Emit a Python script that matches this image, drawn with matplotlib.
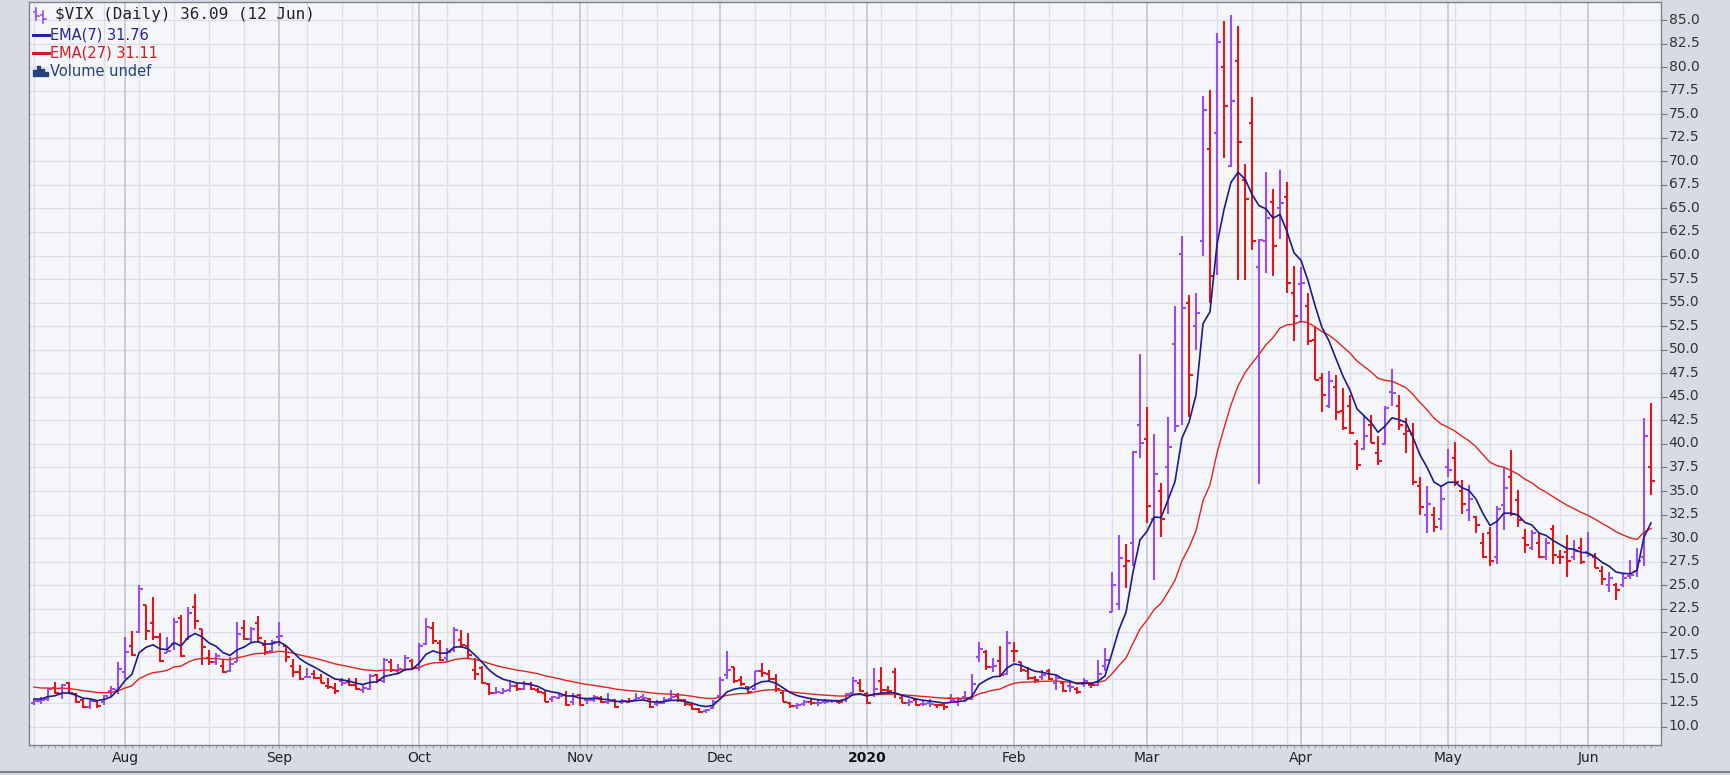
import numpy as np
import pandas as pd
import matplotlib
matplotlib.use("Agg")
import matplotlib.pyplot as plt
from matplotlib.transforms import ScaledTranslation
from matplotlib.patches import Rectangle
from matplotlib.lines import Line2D

# ---------------- data ----------------
holidays = ["2019-09-02", "2019-11-28", "2019-12-25", "2020-01-01",
            "2020-01-20", "2020-02-17", "2020-04-10", "2020-05-25"]
dates = pd.bdate_range("2019-07-15", "2020-06-12")
dates = dates[~dates.isin(pd.to_datetime(holidays))]

month_labels = ["Aug", "Sep", "Oct", "Nov", "Dec", "2020", "Feb", "Mar", "Apr", "May", "Jun"]

opens = [
    12.5, 12.7, 12.9, 14.1, 13.4, 14.6, 13.4, 12.8, 12.1, 12.7, 12.6, 13.8, 13.9,
    15.8, 18.5, 20.0, 22.9, 21.0, 19.5, 17.8, 18.8, 21.5, 19.3, 22.7, 20.4,
    17.3, 16.9, 16.4, 15.9, 16.9, 20.5, 19.3, 21.0, 18.6, 18.0,
    19.5, 18.5, 16.4, 15.8, 15.3, 15.6, 15.2, 14.3, 14.1, 14.8,
    14.7, 14.4, 13.9, 14.0, 15.5, 14.8, 16.9, 15.9, 16.0, 17.0,
    16.2, 18.8, 20.5, 18.9, 17.3, 18.1, 19.2, 18.5, 16.0, 16.2,
    14.5, 13.6, 13.6, 13.9, 14.3, 14.0, 14.5, 13.9, 13.6, 12.9, 13.0, 13.3, 12.6,
    13.3, 12.8, 12.8, 13.0, 12.6, 12.8, 12.6, 12.6, 12.8, 13.1, 12.9, 12.4, 12.5, 12.9, 13.2, 12.8, 12.3, 11.9, 11.6, 12.0,
    13.2, 15.5, 16.3, 14.9, 14.2, 14.0, 15.9, 15.6, 15.0, 13.6, 12.5, 12.2, 12.4, 12.6, 12.5, 12.6, 12.7, 12.6, 12.8, 13.6, 14.6,
    13.5, 13.3, 14.8, 13.9, 15.8, 13.0, 12.5, 12.8, 12.4, 12.5, 12.3, 12.3, 13.0, 12.6, 13.1, 12.9, 17.4, 17.9, 16.3, 17.0, 15.6,
    18.0, 16.8, 15.9, 15.1, 15.3, 15.9, 14.6, 14.6, 14.3, 14.0, 14.5, 14.4, 14.4, 16.4, 22.2, 23.0, 27.0, 29.5, 42.0,
    40.5, 32.0, 35.0, 37.5, 50.6, 60.2, 55.0, 52.5, 61.5, 71.3, 73.0, 80.0, 69.5, 80.6, 68.0, 74.1, 58.8, 61.5, 65.7, 65.0, 66.2, 56.0,
    57.0, 54.6, 51.0, 47.0, 44.0, 46.0, 43.5, 44.0, 40.0, 39.5, 42.0, 39.0, 40.0, 45.5, 44.0, 41.0, 41.0, 35.5, 32.5, 32.5, 32.0,
    37.5, 38.5, 35.0, 33.0, 32.2, 29.5, 30.5, 28.0, 33.5, 36.5, 34.0, 30.0, 29.0, 29.5, 28.0, 31.0, 28.0, 28.5, 28.0, 29.0,
    28.5, 28.0, 26.5, 25.0, 25.0, 25.0, 26.0, 26.5, 28.0, 37.5,
]
highs = [
    12.9, 13.1, 14.0, 14.7, 14.5, 14.7, 13.6, 12.9, 12.9, 12.8, 13.3, 14.3, 16.8,
    19.5, 20.1, 25.0, 22.9, 23.8, 19.9, 19.5, 21.5, 21.8, 22.7, 24.1, 20.4,
    18.1, 17.8, 17.2, 17.4, 21.1, 21.3, 20.6, 21.7, 19.2, 19.2,
    21.1, 18.5, 17.2, 16.5, 16.2, 16.0, 15.6, 15.1, 14.6, 15.2,
    15.1, 15.2, 14.4, 15.6, 15.6, 17.3, 17.2, 16.6, 17.6, 17.2,
    18.9, 21.5, 21.1, 19.2, 18.3, 20.6, 20.2, 19.9, 17.3, 16.4,
    14.6, 14.2, 14.1, 14.7, 14.6, 14.8, 14.7, 14.1, 13.8, 13.2, 13.6, 13.8, 13.6,
    13.4, 12.9, 13.3, 13.2, 13.6, 12.9, 12.9, 13.0, 13.6, 13.5, 13.0, 12.8, 13.1, 13.9, 13.6, 12.9, 12.4, 12.0, 11.9, 12.8,
    15.3, 18.0, 16.3, 15.4, 14.3, 15.9, 16.7, 16.0, 15.6, 13.9, 12.6, 12.5, 12.8, 12.9, 12.8, 12.9, 12.8, 12.8, 13.6, 15.3, 15.0,
    13.7, 16.2, 16.3, 14.3, 16.2, 13.3, 12.9, 12.9, 12.8, 12.9, 12.4, 12.4, 13.4, 13.1, 13.8, 15.6, 19.0, 18.1, 17.3, 18.5, 20.1,
    19.0, 16.9, 16.3, 15.4, 16.0, 16.1, 15.5, 14.7, 14.8, 14.2, 15.2, 14.6, 17.1, 18.3, 26.4, 30.3, 29.4, 39.2, 49.5,
    43.9, 41.1, 35.8, 42.9, 54.6, 62.1, 55.8, 56.0, 76.9, 77.6, 83.6, 84.9, 85.5, 84.4, 69.7, 76.8, 61.8, 68.9, 67.1, 69.1, 67.8, 58.9,
    58.8, 56.0, 52.5, 47.5, 47.7, 47.3, 45.9, 45.2, 40.4, 43.1, 43.1, 40.8, 44.0, 47.9, 45.2, 42.7, 42.2, 36.5, 35.5, 33.3, 35.6,
    39.5, 40.2, 36.2, 35.6, 32.3, 30.5, 31.2, 33.4, 37.4, 39.4, 35.1, 31.0, 30.9, 30.5, 30.0, 31.4, 28.7, 30.3, 29.8, 30.0,
    30.7, 28.4, 27.0, 26.4, 25.2, 26.3, 27.7, 28.9, 42.7, 44.3,
]
lows = [
    12.3, 12.4, 12.7, 13.4, 12.9, 13.5, 12.5, 12.0, 11.9, 12.0, 12.3, 13.2, 13.5,
    15.0, 17.5, 19.9, 19.2, 19.2, 16.9, 17.8, 18.1, 17.4, 19.2, 20.4, 16.5,
    16.5, 16.5, 15.7, 15.8, 16.9, 19.2, 19.0, 18.9, 17.6, 17.9,
    18.5, 16.9, 15.3, 14.9, 15.1, 15.0, 14.6, 14.0, 13.5, 14.3,
    14.3, 13.9, 13.6, 13.9, 14.6, 14.6, 15.8, 15.7, 15.9, 16.2,
    15.9, 18.6, 18.8, 17.0, 16.9, 17.9, 18.3, 17.3, 14.9, 14.5,
    13.3, 13.4, 13.4, 13.7, 13.8, 13.9, 13.9, 13.6, 12.6, 12.6, 12.9, 12.2, 12.3,
    12.2, 12.4, 12.6, 12.5, 12.4, 12.0, 12.4, 12.5, 12.7, 12.8, 12.0, 12.2, 12.4, 12.8, 12.6, 12.2, 11.7, 11.4, 11.4, 11.9,
    12.9, 15.0, 14.6, 14.3, 13.5, 13.9, 15.3, 14.8, 13.7, 12.6, 12.0, 11.9, 12.2, 12.3, 12.2, 12.4, 12.5, 12.4, 12.6, 13.4, 13.7,
    12.4, 13.1, 13.5, 13.4, 13.0, 12.5, 12.2, 12.2, 12.2, 12.1, 12.0, 11.8, 12.6, 12.2, 12.6, 12.8, 16.8, 16.0, 15.8, 15.3, 15.5,
    16.8, 15.8, 14.9, 14.6, 14.9, 14.9, 13.9, 13.7, 13.7, 13.4, 14.2, 14.1, 14.3, 15.9, 22.2, 22.4, 24.7, 27.0, 38.5,
    31.6, 25.5, 30.1, 32.6, 41.3, 42.0, 42.9, 50.0, 59.9, 55.0, 57.9, 70.3, 69.4, 57.4, 57.4, 60.6, 35.7, 58.1, 57.8, 61.8, 56.0, 50.9,
    52.8, 50.5, 46.8, 43.4, 43.8, 42.5, 41.5, 41.0, 37.2, 39.4, 40.1, 37.8, 39.9, 44.0, 41.5, 39.0, 35.6, 32.5, 30.5, 30.7, 30.9,
    36.5, 35.5, 32.6, 31.8, 30.5, 27.9, 27.0, 27.3, 30.9, 32.3, 31.2, 28.4, 28.7, 27.9, 27.7, 27.3, 27.3, 25.9, 27.7, 27.3,
    28.0, 26.8, 25.0, 24.3, 23.4, 24.8, 25.7, 25.9, 27.0, 34.6,
]
closes = [
    12.68, 12.86, 13.97, 13.53, 14.45, 13.53, 12.61, 12.07, 12.74, 12.16, 13.24, 13.94, 16.12,
    17.87, 17.61, 24.59, 20.17, 19.49, 16.91, 17.97, 21.09, 17.52, 22.10, 21.18, 18.47,
    16.88, 17.50, 15.80, 16.68, 19.87, 19.32, 20.31, 19.35, 17.88, 18.98,
    19.66, 17.33, 15.82, 15.00, 15.27, 15.20, 14.61, 14.22, 13.74, 14.67,
    14.44, 13.95, 14.05, 15.32, 14.91, 17.05, 15.96, 16.07, 17.22, 16.24,
    18.56, 20.56, 19.12, 17.04, 17.86, 20.28, 18.64, 17.57, 15.58, 14.57,
    13.54, 13.68, 13.79, 14.25, 14.00, 14.46, 14.01, 13.71, 12.65, 13.11, 13.20, 12.33, 13.22,
    12.30, 12.83, 13.10, 12.62, 12.73, 12.07, 12.69, 12.68, 13.00, 13.05, 12.05, 12.46, 12.86, 13.13, 12.78, 12.34, 11.87, 11.54, 11.75, 12.62,
    14.91, 15.96, 14.80, 14.52, 13.62, 15.86, 15.68, 14.99, 13.94, 12.63, 12.14, 12.29, 12.58, 12.50, 12.51, 12.61, 12.67, 12.65, 13.43, 14.82, 13.78,
    12.47, 14.02, 13.85, 13.79, 13.45, 12.54, 12.56, 12.32, 12.39, 12.42, 12.32, 12.10, 12.85, 12.91, 12.98, 14.56, 18.23, 16.28, 16.39, 15.49, 18.84,
    17.97, 16.05, 15.15, 14.96, 15.47, 15.04, 15.18, 13.74, 14.15, 13.68, 14.83, 14.38, 15.56, 17.08, 25.03, 27.85, 27.56, 39.16, 40.11,
    33.42, 36.82, 31.99, 39.62, 41.94, 54.46, 47.30, 53.90, 75.47, 57.83, 82.69, 75.91, 76.45, 72.00, 66.04, 61.59, 61.67, 63.95, 61.00, 65.54, 57.08, 53.54,
    57.06, 50.91, 46.80, 45.24, 46.70, 43.35, 41.67, 41.17, 37.76, 40.84, 40.11, 38.15, 43.83, 45.41, 41.98, 41.38, 35.93, 33.29, 33.57, 31.23, 34.15,
    37.19, 35.97, 33.61, 34.12, 31.44, 27.98, 27.57, 33.04, 35.28, 32.61, 31.89, 29.30, 30.53, 27.99, 29.53, 28.16, 28.01, 27.62, 28.59, 27.51,
    28.23, 26.84, 25.66, 25.81, 24.52, 25.81, 26.08, 27.57, 40.79, 36.09,
]
prev_close = 12.39     # close before the first bar (sets first bar colour)
ema7_seed = 13.0       # indicator levels just before the first bar
ema27_seed = 14.3

# ---------------- helpers ----------------
opens = np.array(opens); highs = np.array(highs)
lows = np.array(lows); closes = np.array(closes)
n = len(closes)
x = np.arange(n)


def ema(vals, span, seed):
    a = 2.0 / (span + 1)
    out, e = [], seed
    for v in vals:
        e = a * v + (1 - a) * e
        out.append(e)
    return np.array(out)


ema7 = ema(closes, 7, ema7_seed)
ema27 = ema(closes, 27, ema27_seed)
prev = np.concatenate([[prev_close], closes[:-1]])
up = closes >= prev

month_idx = [i for i in range(1, n) if dates[i].month != dates[i - 1].month]
week_idx = [0] + [i for i in range(1, n) if dates[i].weekday() < dates[i - 1].weekday()]

# ---------------- figure ----------------
W, H = 1730, 775
fig = plt.figure(figsize=(W / 100, H / 100), dpi=100)
fig.patch.set_facecolor('#d7dbe3')

PL, PR, PT, PB = 29, 1661, 2, 745
ax = fig.add_axes([PL / W, (H - PB) / H, (PR - PL) / W, (PB - PT) / H])
ax.set_facecolor('#f5f6fa')

X0, DX = 34, 7.0
ax.set_xlim((PL - X0) / DX, (PR - X0) / DX)
Y85, SC = 20, 9.42
ax.set_ylim(85 - (PB - Y85) / SC, 85 + (Y85 - PT) / SC)

# grid
for v in np.arange(10, 86, 2.5):
    ax.axhline(v, color='#dde0e8', lw=1.0, zorder=0.5)
for i in week_idx:
    if i not in month_idx:
        ax.axvline(i, color='#dde0e8', lw=1.0, zorder=0.5)
for i in month_idx:
    ax.axvline(i, color='#c4c7d0', lw=1.2, zorder=0.6)

# OHLC bars
PURPLE, RED = '#9a4cf0', '#e3161c'
for mask, col in ((up, PURPLE), (~up, RED)):
    xs = x[mask]
    ax.vlines(xs, lows[mask], highs[mask], colors=col, lw=1.5, zorder=3)
    ax.hlines(opens[mask], xs - 0.5, xs, colors=col, lw=1.5, zorder=3)
    ax.hlines(closes[mask], xs, xs + 0.5, colors=col, lw=1.5, zorder=3)

# EMAs
ax.plot(x, ema27, color='#e2231d', lw=1.0, zorder=4)
ax.plot(x, ema7, color='#1b1b8c', lw=1.2, zorder=5)

# axes styling
for s in ax.spines.values():
    s.set_color('#7e828b')
    s.set_linewidth(1.0)

ax.yaxis.tick_right()
yt = np.arange(10, 85.01, 2.5)
ax.set_yticks(yt)
ax.set_yticklabels([f"{v:.1f}" for v in yt])
ax.tick_params(axis='y', which='major', length=4, width=0.8, color='#777777',
               pad=1.5, labelsize=10, labelcolor='#333333')
off = ScaledTranslation(0, 0.02, fig.dpi_scale_trans)
for lbl in ax.get_yticklabels():
    lbl.set_transform(lbl.get_transform() + off)

ax.set_xticks(month_idx)
ax.set_xticklabels(month_labels)
ax.set_xticks(x, minor=True)
ax.tick_params(axis='x', which='both', length=2.5, width=0.6, color='#8c8c8c',
               pad=2, labelsize=10, labelcolor='#222222')
for lbl in ax.get_xticklabels():
    if lbl.get_text() == '2020':
        lbl.set_fontweight('bold')
        lbl.set_color('#111111')


# ---------------- legend (top-left) ----------------
def fx(px):
    return px / W


def fy(py):
    return 1 - py / H


fig.text(fx(55), fy(15), "$VIX (Daily) 36.09 (12 Jun)", family='DejaVu Sans Mono',
         fontsize=11.5, color='#222222', va='center', ha='left', parse_math=False)
# small OHLC icon
for (cx, y1, y2) in ((36, 8, 20), (43, 11, 23)):
    fig.add_artist(Line2D([fx(cx), fx(cx)], [fy(y1), fy(y2)], color=PURPLE, lw=1.2))
    fig.add_artist(Line2D([fx(cx - 2.5), fx(cx)], [fy(y1 + 4), fy(y1 + 4)], color=PURPLE, lw=1.2))
    fig.add_artist(Line2D([fx(cx), fx(cx + 2.5)], [fy(y2 - 4), fy(y2 - 4)], color=PURPLE, lw=1.2))

legend_rows = [("EMA(7) 31.76", '#25259a', 35), ("EMA(27) 31.11", '#d8181e', 53)]
for txt, col, yy in legend_rows:
    fig.add_artist(Line2D([fx(33), fx(49)], [fy(yy), fy(yy)], color=col, lw=2.2))
    fig.text(fx(50), fy(yy), txt, fontsize=10.5, color=col, va='center', ha='left')

for bx, bh in ((33, 6), (37, 10), (41, 7), (45, 4)):
    fig.add_artist(Rectangle((fx(bx), fy(76)), 2.5 / W, bh / H, color='#24407f'))
fig.text(fx(50), fy(71), "Volume undef", fontsize=10.5, color='#24407f', va='center', ha='left')

# outer frame line at the bottom
fig.add_artist(Line2D([0, 1], [fy(772), fy(772)], color='#7b8089', lw=1.5))

fig.savefig("out.png", dpi=100, facecolor=fig.get_facecolor())
